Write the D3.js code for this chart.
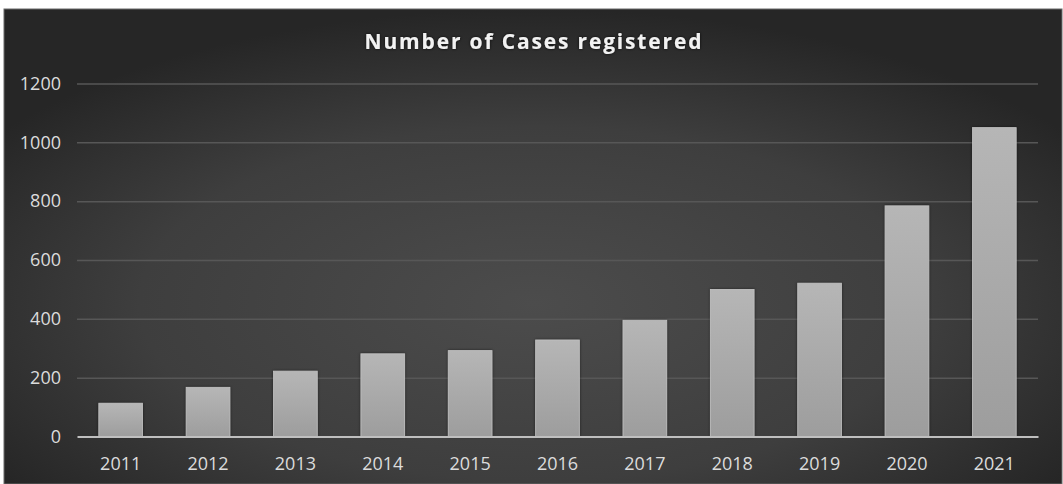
<!DOCTYPE html>
<html>
<head>
<meta charset="utf-8">
<script src="https://cdn.jsdelivr.net/npm/d3@7/dist/d3.min.js"></script>
<style>
  html, body { margin: 0; padding: 0; background: #ffffff; }
  svg { display: block; }
  text { font-family: "Open Sans", "Liberation Sans", sans-serif; }
</style>
</head>
<body>
<svg id="chart" width="1063" height="484"></svg>
<script>
// ---- data ----
const title = "Number of Cases registered";
const years = ["2011","2012","2013","2014","2015","2016","2017","2018","2019","2020","2021"];
const cases = [113, 167, 222, 281, 292, 328, 395, 500, 521, 784, 1050];
const yTicks = [0, 200, 400, 600, 800, 1000, 1200];

// ---- layout ----
const W = 1063, H = 484;
const plot = { left: 77, right: 1038, top: 83.5, bottom: 436.5 };

const svg = d3.select("#chart");
const defs = svg.append("defs");

const bg = defs.append("radialGradient").attr("id", "bg")
  .attr("cx", "50%").attr("cy", "62%").attr("r", "62%")
  .attr("fx", "50%").attr("fy", "62%");
bg.append("stop").attr("offset", "0%").attr("stop-color", "#4c4c4c");
bg.append("stop").attr("offset", "60%").attr("stop-color", "#3e3e3e");
bg.append("stop").attr("offset", "100%").attr("stop-color", "#262626");

const barGrad = defs.append("linearGradient").attr("id", "barGrad")
  .attr("x1", 0).attr("y1", 0).attr("x2", 0).attr("y2", 1);
barGrad.append("stop").attr("offset", "0%").attr("stop-color", "#b6b6b6");
barGrad.append("stop").attr("offset", "100%").attr("stop-color", "#9d9d9d");

const shadow = defs.append("filter").attr("id", "shadow")
  .attr("x", "-20%").attr("y", "-20%").attr("width", "140%").attr("height", "140%");
shadow.append("feDropShadow").attr("dx", 0).attr("dy", 0)
  .attr("stdDeviation", 1.4).attr("flood-color", "#000").attr("flood-opacity", 0.55);

const glow = defs.append("filter").attr("id", "glow")
  .attr("x", "-10%").attr("y", "-30%").attr("width", "120%").attr("height", "160%");
glow.append("feDropShadow").attr("dx", 0).attr("dy", 0)
  .attr("stdDeviation", 1.5).attr("flood-color", "#000").attr("flood-opacity", 0.8);

// chart area background
svg.append("rect")
  .attr("x", 4).attr("y", 9).attr("width", W - 5).attr("height", H - 9)
  .attr("fill", "url(#bg)")
  .attr("stroke", "#6a6a6a").attr("stroke-width", 1);

// ---- scales ----
const x = d3.scaleBand().domain(years)
  .range([plot.left, plot.right])
  .paddingInner(0.5).paddingOuter(0.25);
const y = d3.scaleLinear().domain([0, 1200]).range([plot.bottom, plot.top]);

// ---- y axis with gridlines ----
const yAxis = d3.axisLeft(y)
  .tickValues(yTicks)
  .tickSize(-(plot.right - plot.left))
  .tickPadding(16)
  .tickFormat(d3.format("d"));
const gy = svg.append("g")
  .attr("transform", `translate(${plot.left},0)`)
  .call(yAxis);
gy.select(".domain").remove();
gy.selectAll(".tick line")
  .attr("stroke", "#575757").attr("stroke-width", 1.5)
  .filter(d => d === 0).remove();
gy.selectAll(".tick text")
  .attr("fill", "#dcdcdc")
  .style("font-size", "18px");

// ---- bars ----
svg.append("g").selectAll("rect")
  .data(years.map((yr, i) => ({ yr, v: cases[i] })))
  .join("rect")
  .attr("x", d => x(d.yr))
  .attr("y", d => y(d.v))
  .attr("width", x.bandwidth())
  .attr("height", d => y(0) - y(d.v))
  .attr("fill", "url(#barGrad)")
  .attr("stroke", "#c2c2c2").attr("stroke-width", 0.8)
  .attr("filter", "url(#shadow)");

// ---- x axis ----
const xAxis = d3.axisBottom(x).tickSize(0).tickPadding(21);
const gx = svg.append("g")
  .attr("transform", `translate(0,${plot.bottom})`)
  .call(xAxis);
gx.select(".domain")
  .attr("stroke", "#bfbfbf").attr("stroke-width", 2);
gx.selectAll(".tick text")
  .attr("fill", "#dcdcdc")
  .style("font-size", "18px");

// ---- title ----
const t = svg.append("text")
  .attr("x", 533).attr("y", 49)
  .attr("text-anchor", "middle")
  .attr("fill", "#f2f2f2")
  .attr("filter", "url(#glow)")
  .style("font-size", "21px")
  .style("font-weight", "bold")
  .style("letter-spacing", "0px")
  .text(title);
// fit title width to the reference span (~337px)
const baseLen = t.node().getComputedTextLength();
const ls = Math.max(0, (337 - baseLen) / (title.length - 1));
t.style("letter-spacing", ls + "px").attr("x", 533 + ls / 2);
</script>
</body>
</html>
